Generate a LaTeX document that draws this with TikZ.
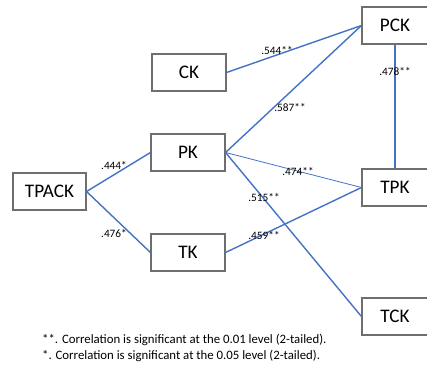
\documentclass[tikz,border=0pt]{standalone}
\usepackage{fontspec}
\setmainfont{Carlito}
\definecolor{linkblue}{HTML}{4472C4}
\definecolor{boxgray}{HTML}{6E6E6E}
\begin{document}
\begin{tikzpicture}[x=1pt,y=-1pt,
  kbox/.style={draw=boxgray,line width=1.1pt,minimum width=74pt,minimum height=37pt,inner sep=0pt,font=\fontsize{19.2}{21}\selectfont},
  link/.style={draw=linkblue,line width=1.4pt},
  thinlink/.style={draw=linkblue,line width=0.8pt},
  coef/.style={inner sep=0pt,font=\fontsize{11.3}{13}\selectfont},
  note/.style={inner sep=0pt,anchor=west,font=\fontsize{12.8}{14}\selectfont}]
\useasboundingbox (0,0) rectangle (427,366);
\node[kbox] (CK) at (189,72.5) {CK};
\node[kbox] (PK) at (188,152.5) {PK};
\node[kbox,minimum width=73pt] (TPACK) at (49.5,191.5) {TPACK};
\node[kbox] (TK) at (188,252.5) {TK};
\node[kbox,minimum width=66pt] (PCK) at (395,25.5) {PCK};
\node[kbox,minimum width=66pt] (TPK) at (395,187.5) {TPK};
\node[kbox,minimum width=66pt] (TCK) at (395,316.5) {TCK};
\draw[link] (CK.east) -- (PCK.west);
\draw[link] (PK.east) -- (PCK.west);
\draw[thinlink] (PK.east) -- (TPK.west);
\draw[link] (PK.east) -- (TCK.west);
\draw[link] (TPACK.east) -- (PK.west);
\draw[link] (TPACK.east) -- (TK.west);
\draw[link] (TK.east) -- (TPK.west);
\draw[link] (PCK.south) -- (TPK.north);
\node[coef] (c1) at (277,51) {.544**};
\node[coef] (c2) at (290,108) {.587**};
\node[coef] (c3) at (395,72) {.478**};
\node[coef] (c4) at (114,166) {.444*};
\node[coef] (c5) at (298,172) {.474**};
\node[coef] (c6) at (264,198) {.515**};
\node[coef] (c7) at (114,234) {.476*};
\node[coef] (c8) at (264,236) {.459**};
\node[note] (n1) at (42,340) {**. Correlation is significant at the 0.01 level (2-tailed).};
\node[note] (n2) at (42,356) {*. Correlation is significant at the 0.05 level (2-tailed).};
\end{tikzpicture}
\end{document}
